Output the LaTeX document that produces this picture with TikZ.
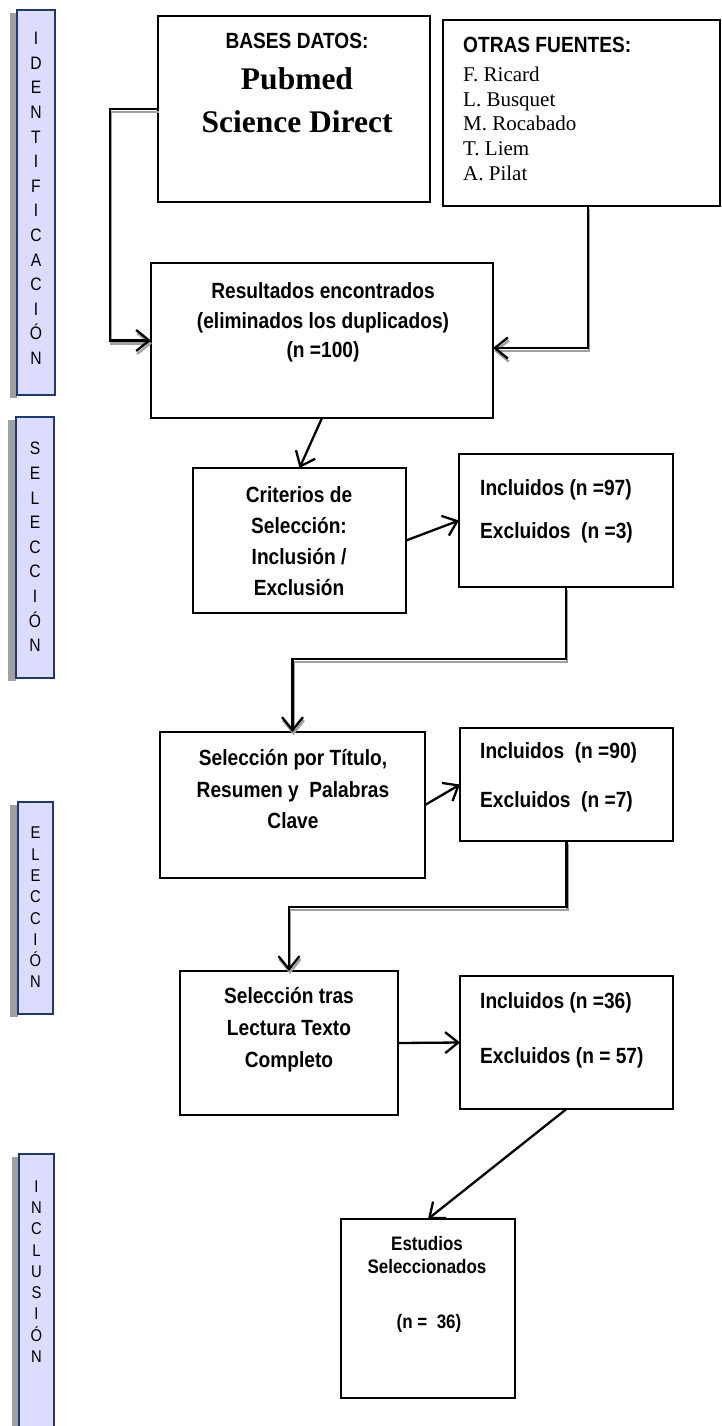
\documentclass[tikz,border=0pt]{standalone}
\usepackage{fontspec}
\setmainfont{Liberation Sans}
\newfontfamily\nar[FakeStretch=0.87]{Liberation Sans}
\newfontfamily\tms{Liberation Serif}
\usetikzlibrary{arrows.meta}
\definecolor{barfill}{RGB}{220,220,255}
\definecolor{barline}{RGB}{31,56,110}
\definecolor{shade}{RGB}{160,160,160}
\begin{document}
\begin{tikzpicture}[x=1pt,y=-1pt,
  thickbox/.style={draw, line width=2.6pt, inner sep=0pt, outer sep=0pt},
  thinbox/.style={draw, line width=1.4pt, inner sep=0pt, outer sep=0pt},
  conn/.style={line width=2.3pt, -{Straight Barb[length=13pt,width=21pt]}},
  shadowline/.style={conn, draw=shade, transform canvas={xshift=1pt,yshift=-3pt}},
  bar/.style={draw=barline, fill=barfill, line width=1.6pt, inner sep=0pt, outer sep=0pt},
  barshadow/.style={fill=shade, draw=none, inner sep=0pt, outer sep=0pt},
  bartext/.style={font=\fontsize{18}{24.6}\selectfont\nar, align=center, inner sep=0pt},
  bartextb/.style={font=\fontsize{17}{21.3}\selectfont\nar, align=center, inner sep=0pt},
  lbl/.style={font=\fontsize{22}{29}\selectfont\nar\bfseries, inner sep=0pt, anchor=base},
  lbll/.style={lbl, anchor=base west},
  slbl/.style={font=\fontsize{19.5}{24}\selectfont\nar\bfseries, inner sep=0pt, anchor=base},
  tlbl/.style={font=\fontsize{31.5}{40}\selectfont\tms\bfseries, inner sep=0pt, anchor=base},
  nlbl/.style={font=\fontsize{21}{24}\selectfont\tms, inner sep=0pt, anchor=base west}
]
\useasboundingbox[fill=white] (0,0) rectangle (722,1426);

% ---- side bars ----
\node[barshadow, minimum width=7pt, minimum height=385pt] (s1) at (13.5,205.5) {};
\node[bar, minimum width=38pt, minimum height=385pt] (b1) at (36,202.5) {};
\node[bartext] (b1t) at (36,198.5) {I\\D\\E\\N\\T\\I\\F\\I\\C\\A\\C\\I\\Ó\\N};

\node[barshadow, minimum width=8pt, minimum height=261pt] (s2) at (12,550.5) {};
\node[bar, minimum width=38pt, minimum height=261pt] (b2) at (35,547.5) {};
\node[bartext] (b2t) at (35,547) {S\\E\\L\\E\\C\\C\\I\\Ó\\N};

\node[barshadow, minimum width=8pt, minimum height=212pt] (s3) at (14,911) {};
\node[bar, minimum width=35pt, minimum height=212pt] (b3) at (35.5,908) {};
\node[bartextb] (b3t) at (35.5,907.5) {E\\L\\E\\C\\C\\I\\Ó\\N};

\node[barshadow, minimum width=7pt, minimum height=290pt] (s4) at (15.5,1302) {};
\node[bar, minimum width=35pt, minimum height=290pt] (b4) at (36.5,1299) {};
\node[bartextb] (b4t) at (36.5,1271.5) {I\\N\\C\\L\\U\\S\\I\\Ó\\N};

% ---- boxes ----
\node[thickbox, minimum width=272pt, minimum height=186pt] (bases) at (294,109) {};
\node[thickbox, minimum width=277pt, minimum height=186pt] (otras) at (581.5,113) {};
\node[thickbox, minimum width=342pt, minimum height=155pt] (result) at (322,340.5) {};
\node[thickbox, minimum width=213pt, minimum height=145pt] (crit) at (299.5,540.5) {};
\node[thinbox, minimum width=214pt, minimum height=133pt] (inc97) at (566,520.5) {};
\node[thickbox, minimum width=265pt, minimum height=146pt] (sel) at (292.5,805) {};
\node[thickbox, minimum width=213pt, minimum height=113pt] (inc90) at (566.5,784.5) {};
\node[thickbox, minimum width=218pt, minimum height=144pt] (tras) at (289,1043) {};
\node[thinbox, minimum width=213pt, minimum height=133pt] (inc36) at (566.5,1042.5) {};
\node[thinbox, minimum width=174pt, minimum height=179pt] (est) at (428,1308.5) {};

% ---- texts ----
\node[lbl] (t1) at (297,49) {BASES DATOS:};
\node[tlbl] (t2) at (297,90) {Pubmed};
\node[tlbl] (t3) at (297,132) {Science Direct};

\node[lbll] (t4) at (463,53) {OTRAS FUENTES:};
\node[nlbl] (t5) at (463,82) {F. Ricard};
\node[nlbl] (t6) at (463,107) {L. Busquet};
\node[nlbl] (t7) at (463,131) {M. Rocabado};
\node[nlbl] (t8) at (463,155) {T. Liem};
\node[nlbl] (t9) at (463,180) {A. Pilat};

\node[lbl] (t10) at (323,298) {Resultados encontrados};
\node[lbl] (t11) at (323,328) {(eliminados los duplicados)};
\node[lbl] (t12) at (323,357) {(n =100)};

\node[lbl] (t13) at (299,502) {Criterios de};
\node[lbl] (t14) at (299,533) {Selección:};
\node[lbl] (t15) at (299,564) {Inclusión /};
\node[lbl] (t16) at (299,595) {Exclusión};

\node[lbll] (t17) at (480,495) {Incluidos (n =97)};
\node[lbll] (t18) at (480,538) {Excluidos\ \ (n =3)};

\node[lbl] (t19) at (293,765) {Selección por Título,};
\node[lbl] (t20) at (293,797) {Resumen y\ \ Palabras};
\node[lbl] (t21) at (293,828) {Clave};

\node[lbll] (t22) at (480,758) {Incluidos\ \ (n =90)};
\node[lbll] (t23) at (480,807) {Excluidos\ \ (n =7)};

\node[lbl] (t24) at (289,1003) {Selección tras};
\node[lbl] (t25) at (289,1035) {Lectura Texto};
\node[lbl] (t26) at (289,1067) {Completo};

\node[lbll] (t27) at (480,1008) {Incluidos (n =36)};
\node[lbll] (t28) at (480,1063) {Excluidos (n = 57)};

\node[slbl] (t29) at (427,1250) {Estudios};
\node[slbl] (t30) at (427,1273) {Seleccionados};
\node[slbl] (t31) at (429,1328) {(n =\ \ 36)};

% ---- connectors ----
\draw[shadowline] (bases.west) -- ++(-48,0) |- (result.west);
\draw[conn] (bases.west) -- ++(-48,0) |- (result.west);
\draw[shadowline] ([xshift=6.5pt]otras.south) |- ([yshift=-7.5pt]result.east);
\draw[conn] ([xshift=6.5pt]otras.south) |- ([yshift=-7.5pt]result.east);
\draw[conn] (result.south) -- (crit.north);
\draw[conn] (crit.east) -- (inc97.west);
\draw[shadowline] (inc97.south) -- ++(0,72) -| (sel.north);
\draw[conn] (inc97.south) -- ++(0,72) -| (sel.north);
\draw[conn] (sel.east) -- (inc90.west);
\draw[shadowline] (inc90.south) -- ++(0,66) -| (tras.north);
\draw[conn] (inc90.south) -- ++(0,66) -| (tras.north);
\draw[conn] (tras.east) -- (inc36.west);
\draw[conn] (inc36.south) -- (est.north);
\end{tikzpicture}
\end{document}
